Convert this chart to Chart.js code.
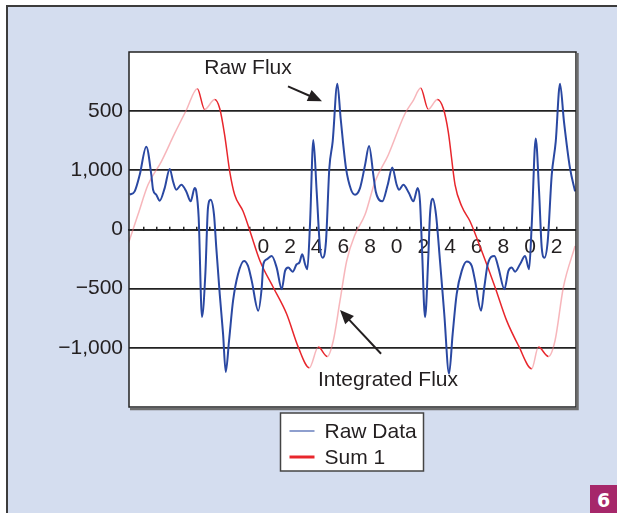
<!DOCTYPE html>
<html>
<head>
<meta charset="utf-8">
<script src="https://cdn.jsdelivr.net/npm/chart.js@4"></script>
<style>
  html, body { margin: 0; padding: 0; background: #fff; overflow: hidden; }
  #frame { position: absolute; left: 6px; top: 5px; width: 620px; height: 520px;
           background: #d4ddef; border-left: 2px solid #3c3c3c; border-top: 2px solid #3c3c3c; }
  #wrap { position: absolute; left: 0; top: 0; width: 617px; height: 513px; }
  #badge { position: absolute; left: 590px; top: 485px; width: 27px; height: 28px;
           background: #a6276a; color: #fff; font: bold 19px "DejaVu Sans", sans-serif;
           text-align: center; line-height: 30px; }
</style>
</head>
<body>
<div id="frame"></div>
<div id="wrap"><canvas id="c" width="617" height="513"></canvas></div>
<div id="badge">6</div>
<script>
// Raw Data (blue)
const rawX = [-0.02, 0.35, 0.73, 1.22, 1.60, 1.73, 1.97, 2.23, 2.60, 2.98,
              3.23, 3.47, 3.85, 4.22, 4.55, 4.85, 4.97, 5.15, 5.40, 5.65,
              5.85, 6.05, 6.30, 6.47, 6.73, 6.98, 7.18, 7.43, 7.73, 8.10,
              8.55, 8.85, 9.13, 9.62, 9.88, 10.0, 10.25, 10.63, 11.0, 11.38,
              11.63, 11.87, 12.2, 12.5, 12.7, 12.92, 13.13, 13.3, 13.5, 13.75,
              14.0, 14.25, 14.45, 14.7, 14.95, 15.2, 15.55, 15.8, 16.2, 16.58,
              16.88, 17.25, 17.63, 17.93, 18.25, 18.43, 18.92, 19.33, 19.67, 20.0,
              20.18, 20.5, 20.92, 21.25, 21.58, 21.75, 21.88, 22.13, 22.37, 22.5,
              22.7, 22.95, 23.25, 23.57, 23.93, 24.2, 24.5, 24.88, 25.25, 25.63,
              25.88, 26.33, 26.57, 26.83, 27.33, 27.63, 28.08, 28.38, 28.63, 28.88,
              29.25, 29.63, 29.93, 30.13, 30.43, 30.68, 30.88, 31.08, 31.33, 31.63,
              31.93, 32.25, 32.55, 33.0, 33.38];
const rawY = [294, 322, 462, 700, 462, 336, 294, 244, 350, 512,
              406, 336, 378, 322, 238, 350, 322, 101, -739, -378,
              185, 252, 126, -151, -546, -882, -1204, -938, -602, -378,
              -266, -308, -434, -686, -490, -294, -252, -224, -322, -504,
              -350, -322, -356, -294, -280, -210, -294, -336, 42, 756,
              322, -154, -238, -98, 518, 742, 1232, 938, 518, 336,
              294, 350, 546, 706, 462, 322, 238, 378, 524, 378,
              336, 378, 308, 238, 350, 238, -98, -742, -238, 126,
              260, 126, -266, -714, -1218, -882, -546, -350, -271, -308,
              -434, -686, -490, -294, -224, -322, -504, -350, -322, -356,
              -294, -224, -336, 42, 770, 322, -154, -238, -98, 462,
              742, 1232, 910, 518, 322];

// Sum 1 (red, integrated flux)
const sumX = [-0.1, 0.6, 1.35, 2.35, 3.35, 4.22, 5.05, 5.6, 6.35, 6.73,
              7.1, 7.48, 7.85, 8.48, 9.0, 9.75, 10.75, 11.75, 12.62, 13.45,
              14.12, 14.8, 15.25, 15.75, 16.25, 16.88, 17.63, 18.38, 19.37, 20.63,
              21.25, 21.8, 22.37, 23.05, 23.5, 23.87, 24.38, 24.88, 25.5, 26.38,
              27.38, 28.25, 29.13, 30.13, 30.63, 31.38, 31.88, 32.5, 33.38];
const sumY = [-109, 126, 378, 574, 812, 1008, 1190, 1014, 1098, 1022,
              798, 490, 294, 154, -14, -266, -490, -714, -994, -1168,
              -994, -1073, -938, -602, -266, -42, 126, 406, 630, 980,
              1092, 1196, 1016, 1098, 1022, 826, 378, 196, 70, -182,
              -487, -770, -980, -1176, -994, -1073, -938, -490, -140];

const yTickValues = [1000, 500, 0, -500, -1000];
const yTickLabels = ['500', '1,000', '0', '\u2212500', '\u22121,000'];
const xTickValues = [10, 12, 14, 16, 18, 20, 22, 24, 26, 28, 30, 32];
const xTickLabels = ['0', '2', '4', '6', '8', '0', '2', '4', '6', '8', '0', '2'];

const BLUE = '#2a48a2';
const RED = '#e8262c';
const PINK = 'rgba(240, 110, 120, 0.5)';
const INK = '#231f20';
const FONT = '"Liberation Sans", Arial, sans-serif';

Chart.defaults.font.family = FONT;
Chart.defaults.font.size = 21;
Chart.defaults.color = INK;

function drawArrow(ctx, x1, y1, x2, y2) {
    const head = 14, half = 6;
    const a = Math.atan2(y2 - y1, x2 - x1);
    const c = Math.cos(a), s = Math.sin(a);
    ctx.beginPath();
    ctx.moveTo(x1, y1);
    ctx.lineTo(x2 - c * head * 0.8, y2 - s * head * 0.8);
    ctx.stroke();
    ctx.beginPath();
    ctx.moveTo(x2, y2);
    ctx.lineTo(x2 - c * head + s * half, y2 - s * head - c * half);
    ctx.lineTo(x2 - c * head - s * half, y2 - s * head + c * half);
    ctx.closePath();
    ctx.fill();
}

const framePlugin = {
    id: 'framePlugin',
    beforeDraw(chart) {
        const { ctx, chartArea: a } = chart;
        ctx.save();
        ctx.fillStyle = '#fff';
        ctx.fillRect(a.left, a.top, a.right - a.left, a.bottom - a.top);
        ctx.restore();
    },
    afterDatasetsDraw(chart) {
        const { ctx, chartArea: a, scales: { x, y } } = chart;
        ctx.save();
        // plot border with a grey shadow on the right / bottom
        ctx.strokeStyle = '#222';
        ctx.lineWidth = 1.5;
        ctx.strokeRect(a.left, a.top, a.right - a.left, a.bottom - a.top);
        ctx.strokeStyle = '#6e6e6e';
        ctx.lineWidth = 2.5;
        ctx.beginPath();
        ctx.moveTo(a.right + 1.5, a.top + 1);
        ctx.lineTo(a.right + 1.5, a.bottom + 2);
        ctx.lineTo(a.left + 1, a.bottom + 2);
        ctx.stroke();

        // annotations
        ctx.fillStyle = INK;
        ctx.strokeStyle = INK;
        ctx.lineWidth = 2;
        ctx.font = '21px ' + FONT;
        ctx.textAlign = 'center';
        ctx.textBaseline = 'middle';
        ctx.fillText('Raw Flux', x.getPixelForValue(8.85), y.getPixelForValue(1361));
        drawArrow(ctx, x.getPixelForValue(11.85), y.getPixelForValue(1210),
                       x.getPixelForValue(14.4), y.getPixelForValue(1084));
        ctx.fillText('Integrated Flux', x.getPixelForValue(19.35), y.getPixelForValue(-1277));
        drawArrow(ctx, x.getPixelForValue(18.83), y.getPixelForValue(-1050),
                       x.getPixelForValue(15.75), y.getPixelForValue(-680));

        // legend box under the plot
        const sets = chart.data.datasets;
        const bw = 143, bh = 58;
        const bx = (a.left + a.right) / 2 - bw / 2 - 0.5;
        const by = a.bottom + 6;
        ctx.fillStyle = '#fff';
        ctx.fillRect(bx, by, bw, bh);
        ctx.strokeStyle = '#444';
        ctx.lineWidth = 1.5;
        ctx.strokeRect(bx, by, bw, bh);
        ctx.textAlign = 'left';
        sets.forEach((ds, i) => {
            const ly = by + 18 + i * 26;
            ctx.strokeStyle = ds.legendColor;
            ctx.lineWidth = ds.legendWidth;
            ctx.beginPath();
            ctx.moveTo(bx + 9, ly);
            ctx.lineTo(bx + 34, ly);
            ctx.stroke();
            ctx.fillStyle = INK;
            ctx.fillText(ds.label, bx + 44, ly + 1);
        });
        ctx.restore();
    }
};

new Chart(document.getElementById('c'), {
    type: 'line',
    data: {
        datasets: [
            {
                label: 'Raw Data',
                data: rawX.map((v, i) => ({ x: v, y: rawY[i] })),
                borderColor: BLUE,
                borderWidth: 2,
                pointRadius: 0,
                cubicInterpolationMode: 'monotone',
                legendColor: 'rgba(42, 72, 162, 0.7)',
                legendWidth: 1.5
            },
            {
                label: 'Sum 1',
                data: sumX.map((v, i) => ({ x: v, y: sumY[i] })),
                borderColor: RED,
                borderWidth: 1.5,
                pointRadius: 0,
                cubicInterpolationMode: 'monotone',
                segment: {
                    borderColor: c => c.p1.parsed.y > c.p0.parsed.y ? PINK : undefined
                },
                legendColor: RED,
                legendWidth: 3
            }
        ]
    },
    options: {
        responsive: false,
        animation: false,
        layout: { padding: { left: 0, top: 52, right: 41, bottom: 106 } },
        plugins: {
            legend: { display: false },
            tooltip: { enabled: false }
        },
        scales: {
            x: {
                type: 'linear',
                position: { y: 0 },
                min: -0.075,
                max: 33.45,
                afterFit: s => { s.height = 0; },
                afterBuildTicks: s => {
                    s.ticks = s.ticks.filter(t => Number.isInteger(t.value));
                },
                grid: {
                    drawOnChartArea: false,
                    tickLength: -4,
                    color: '#222',
                    lineWidth: 1.5
                },
                border: { color: '#222', width: 1.8 },
                ticks: {
                    stepSize: 1,
                    autoSkip: false,
                    maxRotation: 0,
                    padding: 9,
                    callback: v => {
                        const i = xTickValues.indexOf(v);
                        return i < 0 ? '' : xTickLabels[i];
                    }
                }
            },
            y: {
                min: -1500,
                max: 1500,
                afterFit: s => { s.width = 129; },
                border: { display: false },
                grid: {
                    drawTicks: false,
                    lineWidth: 1.8,
                    color: c => Math.abs(c.tick.value) === 1500 ? 'rgba(0,0,0,0)' : '#222'
                },
                ticks: {
                    stepSize: 500,
                    padding: 6,
                    callback: v => {
                        const i = yTickValues.indexOf(v);
                        return i < 0 ? '' : yTickLabels[i];
                    }
                }
            }
        }
    },
    plugins: [framePlugin]
});
</script>
</body>
</html>
